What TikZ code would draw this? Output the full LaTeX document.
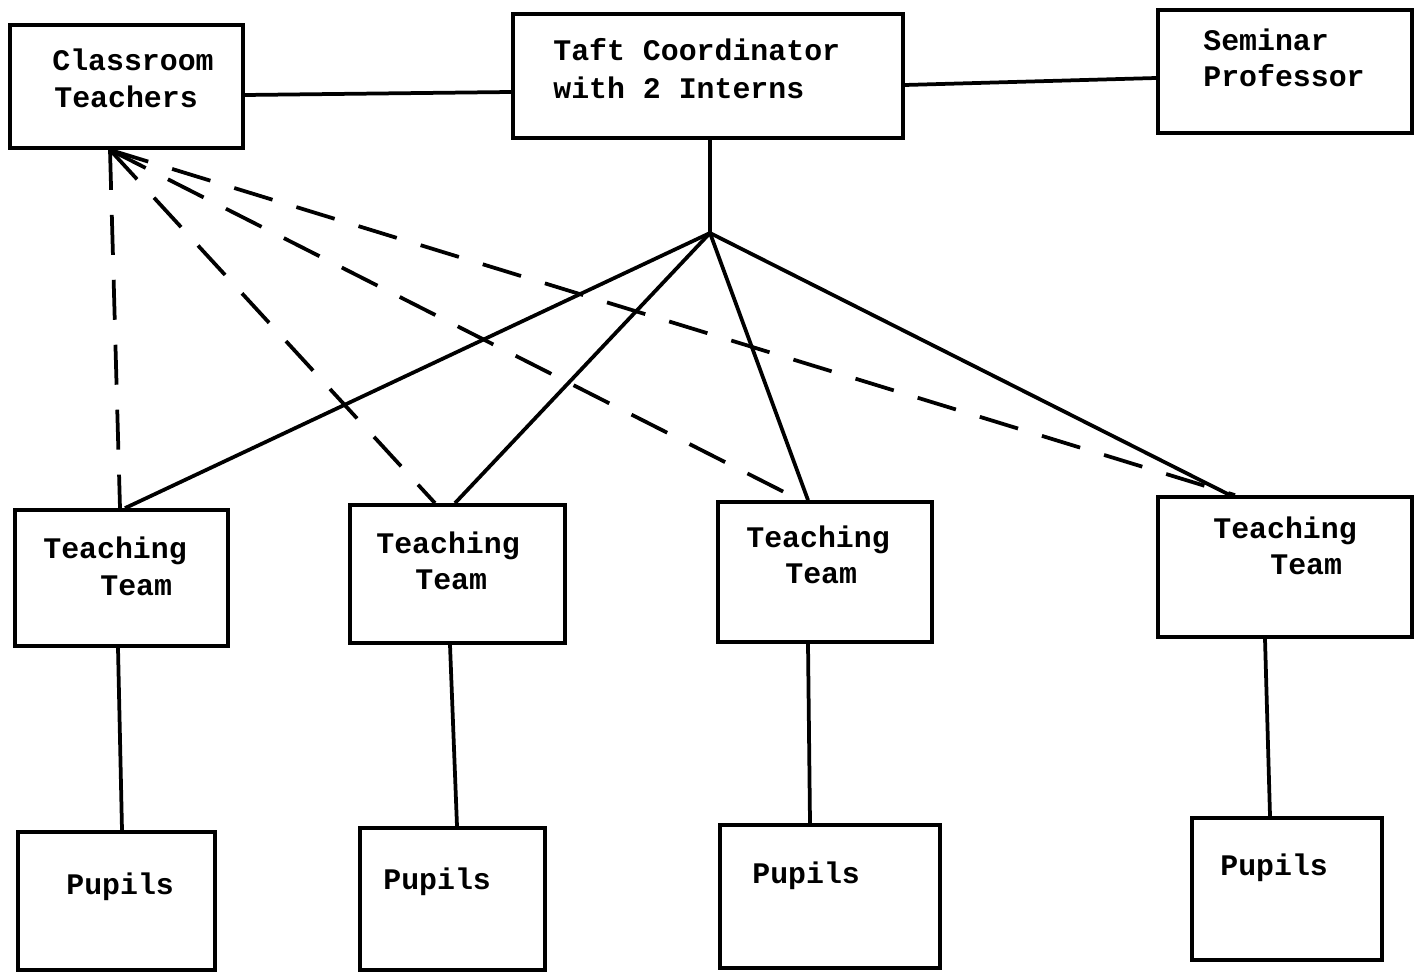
\documentclass[tikz,border=0pt]{standalone}
\usepackage{fontspec}
\setmonofont{Liberation Mono}
\begin{document}
\begin{tikzpicture}[x=0.02cm,y=-0.02cm,
  box/.style={draw,line width=0.075cm,rectangle,inner sep=0pt},
  lbl/.style={anchor=base west,inner sep=0pt,font=\ttfamily\bfseries\fontsize{17pt}{20pt}\selectfont},
  conn/.style={line width=0.075cm},
  dconn/.style={line width=0.075cm,dash pattern=on 0.8cm off 0.5cm}]
\useasboundingbox (0,0) rectangle (1416,973);
% boxes
\node[box,minimum width=4.66cm,minimum height=2.46cm] (ct) at (126.5,86.5) {};
\node[box,minimum width=7.8cm,minimum height=2.48cm] (taft) at (708,76) {};
\node[box,minimum width=5.08cm,minimum height=2.46cm] (sem) at (1285,71.5) {};
\node[box,minimum width=4.26cm,minimum height=2.72cm] (tt1) at (121.5,578) {};
\node[box,minimum width=4.3cm,minimum height=2.76cm] (tt2) at (457.5,574) {};
\node[box,minimum width=4.28cm,minimum height=2.8cm] (tt3) at (825,572) {};
\node[box,minimum width=5.08cm,minimum height=2.8cm] (tt4) at (1285,567) {};
\node[box,minimum width=3.94cm,minimum height=2.76cm] (p1) at (116.5,901) {};
\node[box,minimum width=3.7cm,minimum height=2.84cm] (p2) at (452.5,899) {};
\node[box,minimum width=4.4cm,minimum height=2.86cm] (p3) at (830,896.5) {};
\node[box,minimum width=3.8cm,minimum height=2.84cm] (p4) at (1287,889) {};
% labels
\node[lbl] (ct1) at (52,71) {Classroom};
\node[lbl] (ct2) at (54,108) {Teachers};
\node[lbl] (ta1) at (553,61) {Taft Coordinator};
\node[lbl] (ta2) at (553,99) {with 2 Interns};
\node[lbl] (se1) at (1203,51) {Seminar};
\node[lbl] (se2) at (1203,87) {Professor};
\node[lbl] (t11) at (43,558) {Teaching};
\node[lbl] (t12) at (100,595) {Team};
\node[lbl] (t21) at (376,553) {Teaching};
\node[lbl] (t22) at (415,589) {Team};
\node[lbl] (t31) at (746,547) {Teaching};
\node[lbl] (t32) at (785,583) {Team};
\node[lbl] (t41) at (1213,538) {Teaching};
\node[lbl] (t42) at (1270,574) {Team};
\node[lbl] (pl1) at (66,894) {Pupils};
\node[lbl] (pl2) at (383,889) {Pupils};
\node[lbl] (pl3) at (752,883) {Pupils};
\node[lbl] (pl4) at (1220,875) {Pupils};
% connectors
\coordinate (hub) at (710,233);
\draw[conn] ([yshift=-0.17cm]ct.east) -- ([yshift=-0.32cm]taft.west);
\draw[conn] ([yshift=-0.18cm]taft.east) -- ([yshift=-0.13cm]sem.west);
\draw[conn] ([xshift=0.04cm]taft.south) -- (hub);
\draw[conn] (hub) -- ([xshift=0.07cm]tt1.north);
\draw[conn] (hub) -- ([xshift=-0.05cm]tt2.north);
\draw[conn] (hub) -- ([xshift=-0.34cm]tt3.north);
\draw[conn] (hub) -- ([xshift=-1.1cm]tt4.north);
\draw[dconn] ([xshift=-0.33cm]ct.south) -- ([xshift=-0.03cm]tt1.north);
\draw[dconn] ([xshift=-0.33cm]ct.south) -- ([xshift=-0.45cm]tt2.north);
\draw[dconn] ([xshift=-0.33cm]ct.south) -- ([xshift=-0.5cm]tt3.north);
\draw[dconn] ([xshift=-0.33cm]ct.south) -- ([xshift=-1.0cm]tt4.north);
\draw[conn] ([xshift=-0.07cm]tt1.south) -- ([xshift=0.11cm]p1.north);
\draw[conn] ([xshift=-0.15cm]tt2.south) -- ([xshift=0.09cm]p2.north);
\draw[conn] ([xshift=-0.34cm]tt3.south) -- ([xshift=-0.4cm]p3.north);
\draw[conn] ([xshift=-0.4cm]tt4.south) -- ([xshift=-0.34cm]p4.north);
\end{tikzpicture}
\end{document}
